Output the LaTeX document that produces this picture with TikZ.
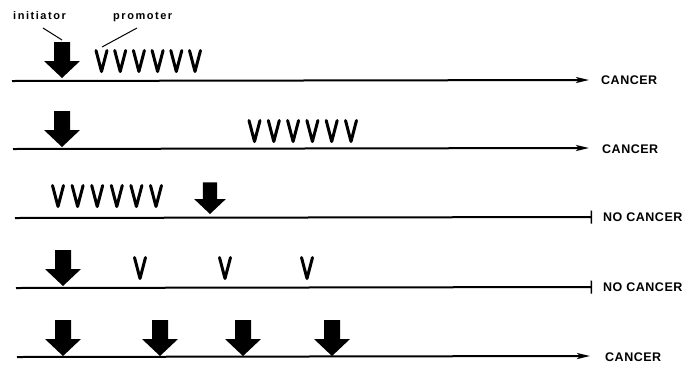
\documentclass[tikz,border=0pt]{standalone}
\usepackage{fontspec}
\setmainfont{Liberation Sans}
\usetikzlibrary{arrows.meta}
\tikzset{
  lbl/.style={font=\fontsize{12.5}{14}\selectfont\bfseries\addfontfeatures{LetterSpace=4}, inner sep=0pt, anchor=base west},
  smalllbl/.style={font=\fontsize{11}{13}\selectfont\bfseries\addfontfeatures{LetterSpace=14}, inner sep=0pt, anchor=base west},
  axis/.style={line width=2pt},
  toCancer/.style={axis, -{Stealth[length=13pt,width=6pt,inset=3pt]}},
  toNone/.style={axis, -{Bar[width=13pt,line width=1.5pt]}},
  leader/.style={line width=1pt},
  initarrow/.pic={\fill[black] (-8,-36) -- (8,-36) -- (8,-17) -- (18,-17) -- (0,0) -- (-18,-17) -- (-8,-17) -- cycle;},
  promo/.pic={\draw[line width=3pt, line join=round, line cap=round] (-5.5,-22.5) -- (0,-1.5) -- (5.5,-22.5);}
}
\begin{document}
\begin{tikzpicture}[x=1pt,y=-1pt]
\useasboundingbox[fill=white] (0,0) rectangle (687,365);
% labels
\node[smalllbl] (init) at (13,19) {initiator};
\node[smalllbl] (prom) at (113,19) {promoter};
\coordinate (i1) at (43,28); \coordinate (i2) at (62,40);
\coordinate (p1) at (137,28); \coordinate (p2) at (102,47);
\draw[leader] (i1) -- (i2);
\draw[leader] (p1) -- (p2);
% row 1
\coordinate (a1) at (12,81); \coordinate (b1) at (589,80);
\draw[toCancer] (a1) -- (b1);
\node[lbl] (c1) at (601,84) {CANCER};
\pic at (62,78) {initarrow};
\foreach \k in {0,...,5} \pic at ({101.5+\k*18.7},73) {promo};
% row 2
\coordinate (a2) at (13,149); \coordinate (b2) at (589,148);
\draw[toCancer] (a2) -- (b2);
\node[lbl] (c2) at (602,153) {CANCER};
\pic at (62,147) {initarrow};
\foreach \k in {0,...,5} \pic at ({254.5+\k*19.3},143) {promo};
% row 3
\coordinate (a3) at (15,218); \coordinate (b3) at (592,217);
\draw[toNone] (a3) -- (b3);
\node[lbl] (c3) at (603,221) {NO CANCER};
\pic[scale=0.88] at (210,214) {initarrow};
\foreach \k in {0,...,5} \pic at ({58+\k*19.6},208) {promo};
% row 4
\coordinate (a4) at (16,288); \coordinate (b4) at (592,287);
\draw[toNone] (a4) -- (b4);
\node[lbl] (c4) at (603,291) {NO CANCER};
\pic at (63,286) {initarrow};
\foreach \x in {140,225,307} \pic at (\x,280) {promo};
% row 5
\coordinate (a5) at (17,357); \coordinate (b5) at (590,356);
\draw[toCancer] (a5) -- (b5);
\node[lbl] (c5) at (605,361) {CANCER};
\foreach \x in {63,160,243,332} \pic at (\x,356) {initarrow};
\end{tikzpicture}
\end{document}
